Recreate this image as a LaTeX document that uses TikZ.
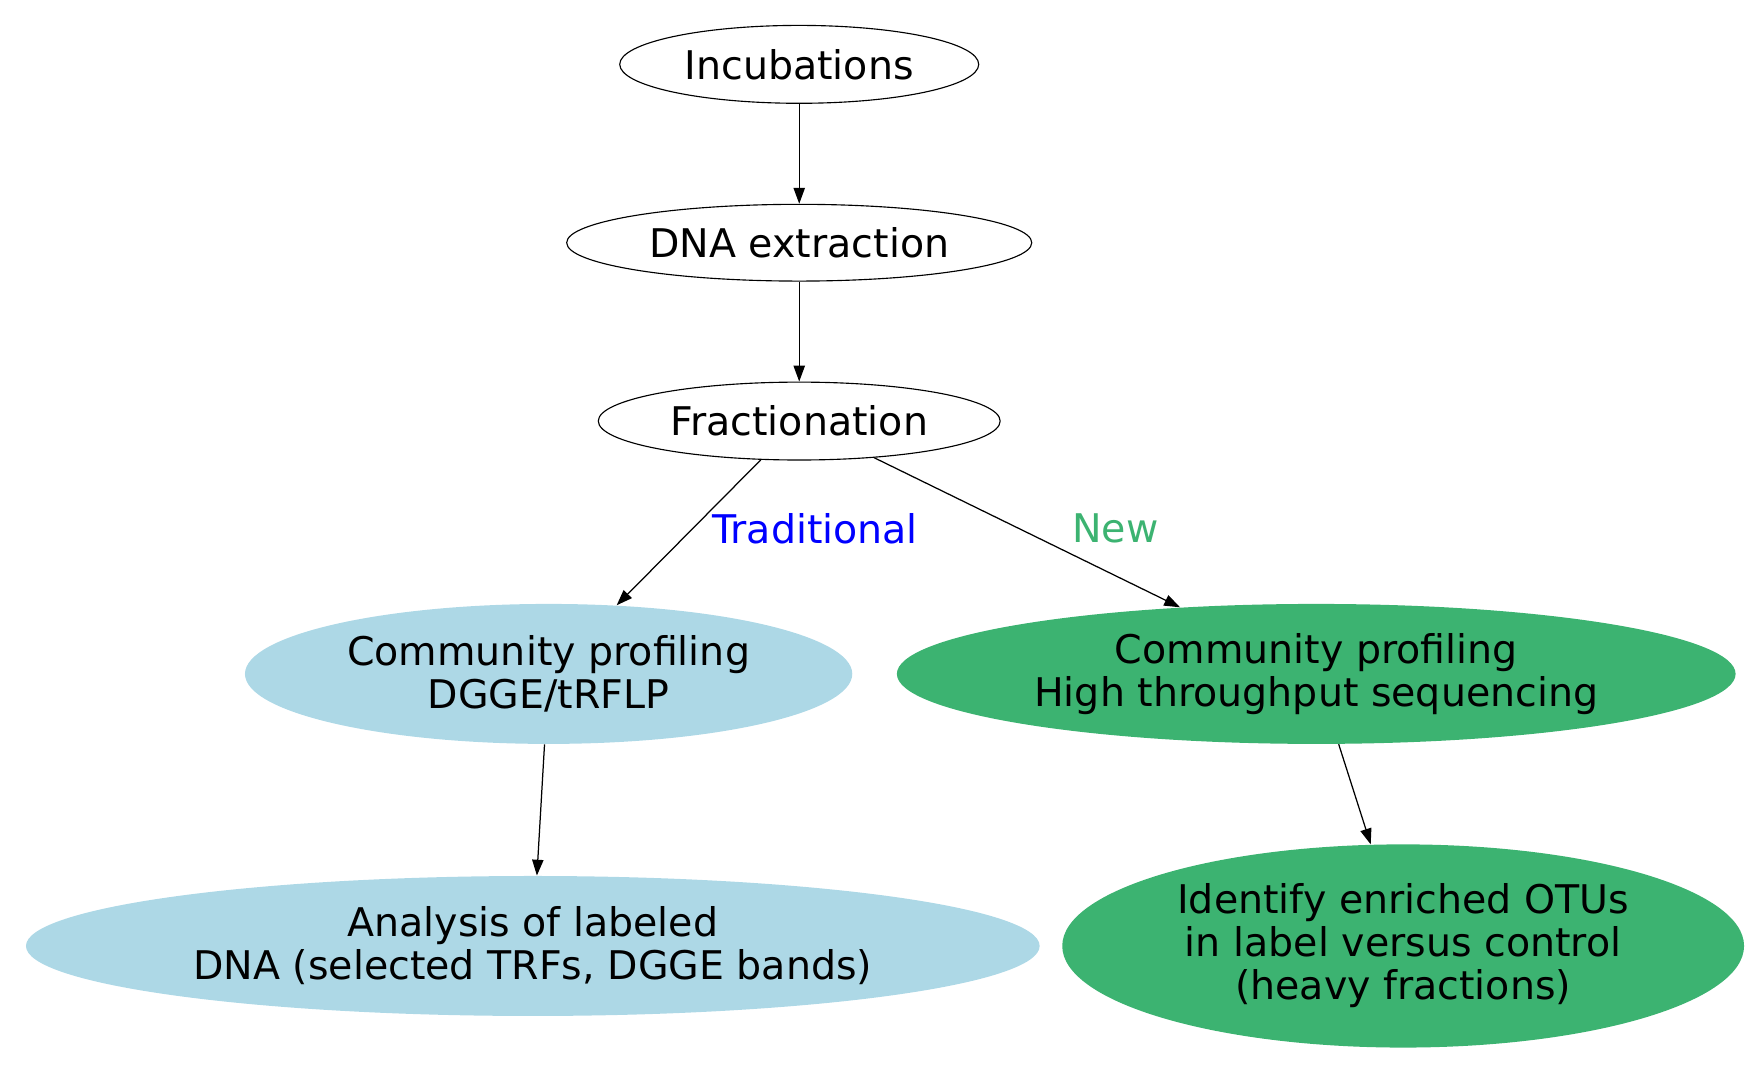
\documentclass[tikz,border=0pt]{standalone}
\usepackage{fontspec}
\setmainfont{DejaVu Sans}
\usetikzlibrary{shapes.geometric,arrows.meta}
\definecolor{lblue}{HTML}{ADD8E6}
\definecolor{mgreen}{HTML}{3CB371}
\begin{document}
\begin{tikzpicture}[x=0.5pt,y=-0.5pt,
  every node/.style={font=\fontsize{17.5pt}{19pt}\selectfont, align=center},
  nd/.style 2 args={ellipse, inner sep=0pt, minimum width=#1pt, minimum height=#2pt},
  plain/.style={draw=black, line width=0.5pt},
  blueish/.style={fill=lblue, draw=none},
  greenish/.style={fill=mgreen, draw=none},
  conn/.style={line width=0.55pt, -{Triangle[length=7pt,width=5pt]}},
  elabel/.style={font=\fontsize{17.5pt}{19pt}\selectfont}]
\useasboundingbox (0,0) rectangle (1560,947);
\node[nd={159}{34.5}, plain] (inc) at (708,57) {Incubations};
\node[nd={206}{34}, plain] (dna) at (708,215) {DNA extraction};
\node[nd={178}{34.5}, plain] (frac) at (708,373) {Fractionation};
\node[nd={269}{62}, blueish] (cpb) at (486,597) {Community profiling\\DGGE/tRFLP};
\node[nd={371.5}{62}, greenish] (cpg) at (1166,597) {Community profiling\\High throughput sequencing};
\node[nd={449}{62}, blueish] (ana) at (472,838) {Analysis of labeled\\DNA (selected TRFs, DGGE bands)};
\node[nd={302}{90}, greenish] (idf) at (1243,838) {Identify enriched OTUs\\in label versus control\\(heavy fractions)};
\draw[conn] (inc) -- (dna);
\draw[conn] (dna) -- (frac);
\draw[conn] (frac) -- (cpb);
\draw[conn] (frac) -- (cpg);
\draw[conn] (cpb) -- (ana);
\draw[conn] (cpg) -- (idf);
\node[elabel, text=blue] (lt) at (722,468) {Traditional};
\node[elabel, text=mgreen] (ln) at (988,468) {New};
\end{tikzpicture}
\end{document}
